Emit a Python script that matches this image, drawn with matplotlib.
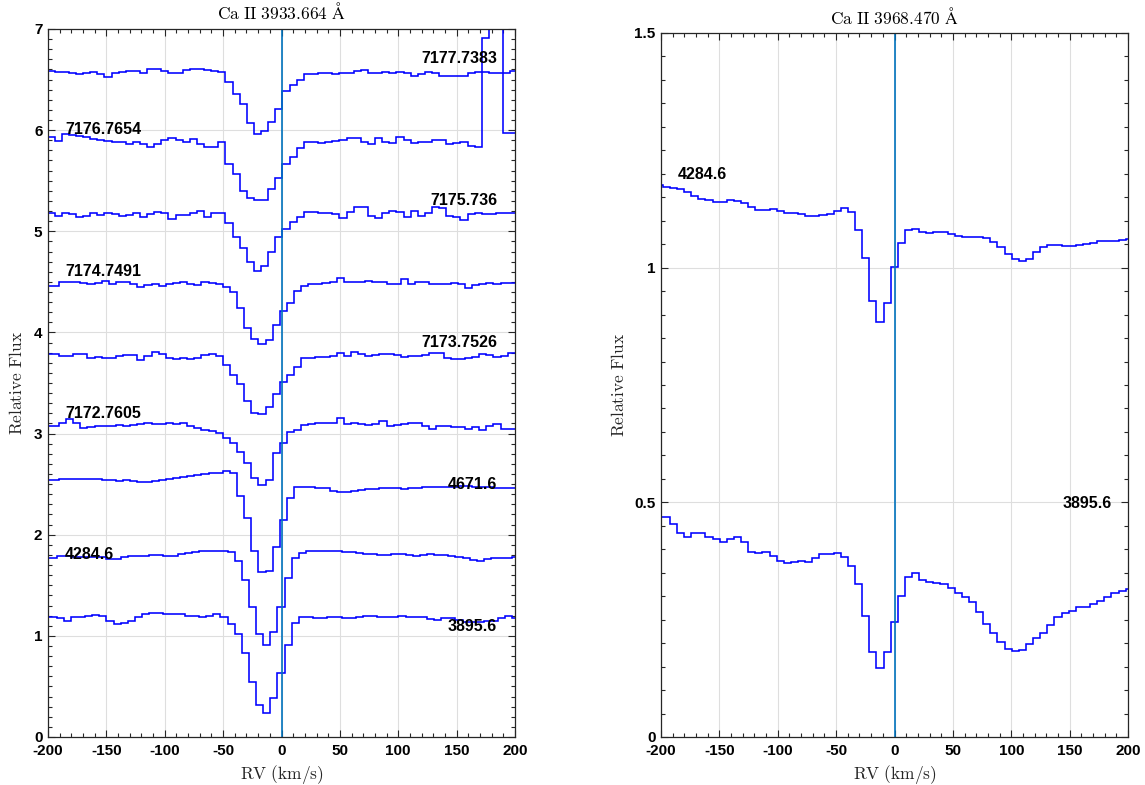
import numpy as np
import matplotlib
matplotlib.use("Agg")
import matplotlib.pyplot as plt
from matplotlib.ticker import MultipleLocator, FuncFormatter

# ---------------------------------------------------------------- data
RV_STEP = 6.1  # km/s per spectral pixel

# Ca II K (3933.664 A) spectra, offset vertically, one per epoch
k_7177_7383 = [6.588, 6.588, 6.572, 6.572, 6.562, 6.552, 6.562, 6.572, 6.552, 6.529,
               6.562, 6.578, 6.588, 6.588, 6.562, 6.605, 6.605, 6.588, 6.569, 6.562,
               6.595, 6.601, 6.608, 6.595, 6.588, 6.578, 6.480, 6.358, 6.259, 6.068,
               5.959, 5.995, 6.084, 6.206, 6.387, 6.447, 6.496, 6.552, 6.552, 6.569,
               6.562, 6.552, 6.562, 6.569, 6.585, 6.595, 6.569, 6.562, 6.578, 6.562,
               6.575, 6.562, 6.536, 6.552, 6.572, 6.562, 6.539, 6.539, 6.536, 6.539,
               6.562, 6.572, 6.572, 6.569, 6.562, 6.562, 6.588]
k_7176_7654 = [5.929, 5.929, 5.896, 5.959, 5.953, 5.942, 5.929, 5.913, 5.903, 5.896,
               5.880, 5.880, 5.863, 5.886, 5.860, 5.837, 5.863, 5.903, 5.919, 5.903,
               5.886, 5.909, 5.863, 5.837, 5.837, 5.880, 5.665, 5.567, 5.402, 5.330,
               5.310, 5.310, 5.420, 5.530, 5.665, 5.731, 5.820, 5.880, 5.880, 5.870,
               5.880, 5.893, 5.903, 5.919, 5.926, 5.886, 5.863, 5.926, 5.886, 5.870,
               5.929, 5.903, 5.870, 5.880, 5.886, 5.903, 5.903, 5.860, 5.877, 5.886,
               5.844, 5.837, 6.908, 7.400, 7.400, 5.969, 5.969]
k_7175_736 = [5.184, 5.184, 5.154, 5.184, 5.168, 5.145, 5.154, 5.177, 5.161, 5.184,
              5.168, 5.154, 5.161, 5.177, 5.138, 5.168, 5.194, 5.184, 5.122, 5.161,
              5.161, 5.184, 5.204, 5.145, 5.177, 5.184, 5.079, 4.947, 4.832, 4.700,
              4.610, 4.657, 4.800, 4.947, 5.023, 5.089, 5.145, 5.188, 5.188, 5.177,
              5.177, 5.168, 5.128, 5.188, 5.237, 5.243, 5.154, 5.128, 5.177, 5.201,
              5.188, 5.145, 5.201, 5.154, 5.177, 5.243, 5.227, 5.154, 5.145, 5.112,
              5.168, 5.184, 5.171, 5.168, 5.177, 5.184, 5.184]
k_7174_7491 = [4.459, 4.459, 4.459, 4.496, 4.502, 4.496, 4.492, 4.479, 4.492, 4.509,
               4.479, 4.496, 4.502, 4.479, 4.452, 4.469, 4.476, 4.463, 4.479, 4.486,
               4.496, 4.479, 4.472, 4.502, 4.486, 4.476, 4.446, 4.397, 4.239, 4.041,
               3.932, 3.886, 3.925, 4.074, 4.212, 4.294, 4.413, 4.459, 4.476, 4.476,
               4.486, 4.496, 4.535, 4.502, 4.496, 4.502, 4.509, 4.502, 4.496, 4.476,
               4.479, 4.525, 4.476, 4.496, 4.502, 4.476, 4.476, 4.479, 4.492, 4.476,
               4.443, 4.469, 4.479, 4.486, 4.479, 4.492, 4.492]
k_7173_7526 = [3.787, 3.787, 3.787, 3.770, 3.767, 3.787, 3.784, 3.744, 3.754, 3.744,
               3.751, 3.770, 3.777, 3.777, 3.727, 3.767, 3.810, 3.787, 3.744, 3.734,
               3.751, 3.737, 3.751, 3.777, 3.787, 3.767, 3.678, 3.579, 3.487, 3.322,
               3.200, 3.194, 3.266, 3.391, 3.507, 3.579, 3.655, 3.751, 3.751, 3.754,
               3.754, 3.770, 3.794, 3.767, 3.810, 3.787, 3.767, 3.777, 3.784, 3.784,
               3.777, 3.760, 3.767, 3.767, 3.777, 3.800, 3.800, 3.744, 3.734, 3.734,
               3.744, 3.760, 3.784, 3.777, 3.760, 3.767, 3.794]
k_7172_7605 = [3.075, 3.075, 3.075, 3.108, 3.141, 3.101, 3.058, 3.068, 3.075, 3.078,
               3.078, 3.085, 3.078, 3.085, 3.091, 3.101, 3.091, 3.091, 3.101, 3.095,
               3.101, 3.078, 3.058, 3.035, 3.025, 3.009, 2.959, 2.910, 2.821, 2.706,
               2.558, 2.492, 2.541, 2.805, 2.903, 3.019, 3.035, 3.085, 3.095, 3.101,
               3.101, 3.101, 3.151, 3.095, 3.101, 3.095, 3.085, 3.095, 3.128, 3.078,
               3.085, 3.095, 3.101, 3.108, 3.078, 3.045, 3.078, 3.078, 3.068, 3.068,
               3.045, 3.061, 3.035, 3.078, 3.095, 3.045, 3.045]
k_4671_6 = [2.541, 2.541, 2.541, 2.548, 2.548, 2.548, 2.548, 2.548, 2.548, 2.541,
            2.541, 2.535, 2.541, 2.531, 2.525, 2.525, 2.531, 2.541, 2.554, 2.564,
            2.574, 2.580, 2.590, 2.600, 2.607, 2.613, 2.630, 2.613, 2.380, 2.162,
            1.842, 1.628, 1.645, 1.876, 2.146, 2.360, 2.469, 2.475, 2.469, 2.465,
            2.459, 2.436, 2.419, 2.419, 2.436, 2.445, 2.449, 2.455, 2.465, 2.460,
            2.459, 2.455, 2.459, 2.465, 2.469, 2.472, 2.475, 2.475, 2.475, 2.482,
            2.480, 2.475, 2.470, 2.469, 2.465, 2.462, 2.459]
k_4284_6 = [1.773, 1.773, 1.790, 1.793, 1.783, 1.783, 1.783, 1.783, 1.783, 1.760,
            1.760, 1.783, 1.793, 1.793, 1.793, 1.800, 1.800, 1.793, 1.793, 1.806,
            1.823, 1.833, 1.842, 1.842, 1.839, 1.839, 1.826, 1.740, 1.552, 1.282,
            1.018, 0.910, 1.041, 1.288, 1.569, 1.767, 1.816, 1.839, 1.842, 1.842,
            1.839, 1.839, 1.833, 1.826, 1.816, 1.809, 1.806, 1.800, 1.800, 1.806,
            1.806, 1.800, 1.793, 1.800, 1.806, 1.800, 1.800, 1.793, 1.783, 1.773,
            1.750, 1.740, 1.757, 1.773, 1.773, 1.773, 1.777]
k_3895_6 = [1.190, 1.190, 1.180, 1.150, 1.183, 1.190, 1.200, 1.206, 1.196, 1.147,
            1.117, 1.130, 1.147, 1.183, 1.216, 1.229, 1.229, 1.216, 1.216, 1.213,
            1.200, 1.196, 1.183, 1.200, 1.213, 1.183, 1.114, 1.018, 0.828, 0.547,
            0.316, 0.240, 0.383, 0.636, 0.906, 1.130, 1.190, 1.190, 1.180, 1.180,
            1.183, 1.183, 1.173, 1.173, 1.183, 1.196, 1.200, 1.190, 1.190, 1.190,
            1.196, 1.190, 1.183, 1.183, 1.167, 1.157, 1.173, 1.180, 1.157, 1.140,
            1.140, 1.140, 1.150, 1.147, 1.173, 1.196, 1.180]

k_names = ["7177.7383", "7176.7654", "7175.736", "7174.7491", "7173.7526",
           "7172.7605", "4671.6", "4284.6", "3895.6"]
k_spectra = [k_7177_7383, k_7176_7654, k_7175_736, k_7174_7491, k_7173_7526,
             k_7172_7605, k_4671_6, k_4284_6, k_3895_6]
# velocity of the first pixel edge of each spectrum (km/s)
k_rv_start = [-206.6, -206.6, -206.6, -208.9, -208.9, -208.9, -208.9, -204.8, -204.8]

# Ca II H (3968.470 A) spectra
h_4284_6 = [1.1762, 1.1726, 1.1705, 1.1670, 1.1620, 1.1528, 1.1464, 1.1443, 1.1407, 1.1407,
            1.1443, 1.1421, 1.1372, 1.1287, 1.1230, 1.1230, 1.1244, 1.1208, 1.1173, 1.1173,
            1.1144, 1.1109, 1.1109, 1.1123, 1.1144, 1.1215, 1.1279, 1.1194, 1.0803, 1.0200,
            0.9297, 0.8836, 0.9241, 1.0008, 1.0533, 1.0803, 1.0825, 1.0754, 1.0747, 1.0768,
            1.0768, 1.0711, 1.0676, 1.0647, 1.0661, 1.0661, 1.0626, 1.0555, 1.0434, 1.0285,
            1.0179, 1.0143, 1.0186, 1.0341, 1.0448, 1.0476, 1.0476, 1.0469, 1.0462, 1.0484,
            1.0498, 1.0519, 1.0569, 1.0576, 1.0576, 1.0590, 1.0612]
h_3895_6 = [0.4694, 0.4694, 0.4532, 0.4353, 0.4268, 0.4340, 0.4353, 0.4268, 0.4211, 0.4162,
            0.4211, 0.4268, 0.4148, 0.3949, 0.3928, 0.3935, 0.3864, 0.3757, 0.3700, 0.3736,
            0.3757, 0.3722, 0.3807, 0.3892, 0.3899, 0.3914, 0.3829, 0.3651, 0.3260, 0.2578,
            0.1818, 0.1463, 0.1804, 0.2457, 0.3011, 0.3416, 0.3488, 0.3345, 0.3296, 0.3275,
            0.3254, 0.3182, 0.3062, 0.2990, 0.2883, 0.2670, 0.2408, 0.2223, 0.2031, 0.1875,
            0.1833, 0.1854, 0.1982, 0.2116, 0.2210, 0.2387, 0.2551, 0.2636, 0.2692, 0.2763,
            0.2777, 0.2827, 0.2898, 0.2990, 0.3062, 0.3118, 0.3147]

h_names = ["4284.6", "3895.6"]
h_spectra = [h_4284_6, h_3895_6]
h_rv_start = [-204.6, -204.6]

# ------------------------------------------------------- label anchors
k_label_pos = [(184.6, 6.713, "right"), (-185.4, 6.002, "left"), (184.6, 5.300, "right"),
               (-185.4, 4.603, "left"), (184.6, 3.905, "right"), (-185.4, 3.194, "left"),
               (184.6, 2.492, "right"), (-185.4, 1.800, "left"), (184.6, 1.088, "right")]
h_label_pos = [(-185.4, 1.1975, "left"), (186.3, 0.4965, "right")]

# -------------------------------------------------------------- style
plt.rcParams["font.family"] = ["Liberation Sans", "DejaVu Sans"]
plt.rcParams["mathtext.fontset"] = "cm"
plt.rcParams["axes.unicode_minus"] = False

SPEC_COLOR = "#0000ff"
ZERO_COLOR = "#0072BD"
AX_COLOR = "#262626"

fig = plt.figure(figsize=(11.45, 7.85), dpi=100)
ax_k = fig.add_axes([48 / 1145, 48 / 785, 467 / 1145, 708 / 785])
ax_h = fig.add_axes([661 / 1145, 48 / 785, 467 / 1145, 704 / 785])


def style_axes(ax, ymax, ymajor, yminor):
    ax.set_xlim(-200, 200)
    ax.set_ylim(0, ymax)
    ax.xaxis.set_major_locator(MultipleLocator(50))
    ax.xaxis.set_minor_locator(MultipleLocator(10))
    ax.yaxis.set_major_locator(MultipleLocator(ymajor))
    ax.yaxis.set_minor_locator(MultipleLocator(yminor))
    fmt = FuncFormatter(lambda v, p: "%g" % v)
    ax.xaxis.set_major_formatter(fmt)
    ax.yaxis.set_major_formatter(fmt)
    ax.set_axisbelow(True)
    ax.grid(True, which="major", color="#dedede", lw=0.8)
    for s in ax.spines.values():
        s.set_color(AX_COLOR)
        s.set_linewidth(0.9)
    ax.tick_params(which="both", direction="in", top=True, right=True,
                   color=AX_COLOR, width=0.8)
    ax.tick_params(which="major", length=5)
    ax.tick_params(which="minor", length=2.7)
    ax.tick_params(axis="x", which="major", pad=5)
    ax.tick_params(axis="y", which="major", pad=4)
    for lab in ax.get_xticklabels() + ax.get_yticklabels():
        lab.set_fontweight("bold")
        lab.set_fontsize(11)
        lab.set_color("black")
    ax.set_xlabel(r"$\mathrm{RV\ (km/s)}$", fontsize=12.5, color="#262626")
    ax.set_ylabel(r"$\mathrm{Relative\ Flux}$", fontsize=12.5, color="#262626")
    ax.xaxis.set_label_coords(0.5, -0.037)


def draw_panel(ax, spectra, starts, names, label_pos):
    for flux, start in zip(spectra, starts):
        edges = start + RV_STEP * np.arange(len(flux) + 1)
        ax.stairs(flux, edges, baseline=None, color=SPEC_COLOR, lw=1.15)
    ax.axvline(0, color=ZERO_COLOR, lw=1.2)
    for name, (x, y, ha) in zip(names, label_pos):
        ax.text(x, y, name, ha=ha, va="center", fontsize=11.5,
                fontweight="bold", color="black")


draw_panel(ax_k, k_spectra, k_rv_start, k_names, k_label_pos)
style_axes(ax_k, 7, 1, 0.1)
ax_k.set_title(r"$\mathrm{Ca\ II\ 3933.664\ \AA}$", fontsize=12.5, pad=7)
ax_k.yaxis.set_label_coords(-0.050, 0.5)

draw_panel(ax_h, h_spectra, h_rv_start, h_names, h_label_pos)
style_axes(ax_h, 1.5, 0.5, 0.05)
ax_h.set_title(r"$\mathrm{Ca\ II\ 3968.470\ \AA}$", fontsize=12.5, pad=6.5)
ax_h.yaxis.set_label_coords(-0.073, 0.5)

fig.savefig("out.png", dpi=100)
